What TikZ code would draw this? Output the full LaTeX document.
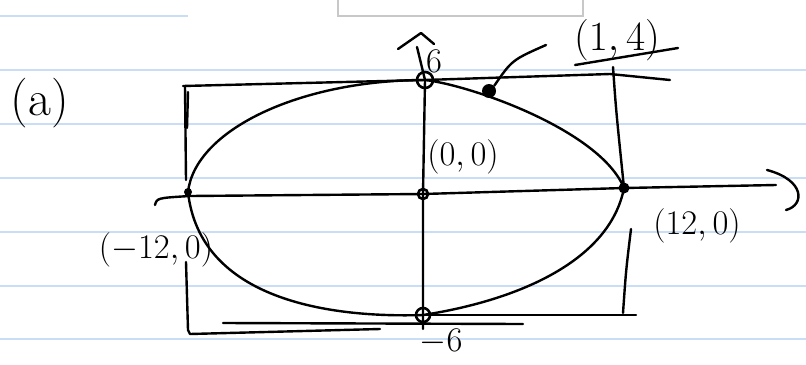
\documentclass[tikz,border=0pt]{standalone}
\usepackage{amsmath, amssymb}
\usepackage{tikz}
\definecolor{rule}{HTML}{C9DDF7}
\definecolor{frame}{HTML}{C8C8C8}

\begin{document}
\begin{tikzpicture}[x=0.5pt, y=-0.5pt,
  ink/.style={line width=1.2pt, line cap=round, line join=round, black},
  ruling/.style={line width=1pt, rule},
  opendot/.style={circle, draw, line width=1.3pt, inner sep=0pt, minimum size=#1},
  fulldot/.style={circle, fill=black, inner sep=0pt, minimum size=#1},
  lbl/.style={inner sep=0pt, font=\LARGE},
]

\useasboundingbox (0,0) rectangle (806,364);

\draw[ruling] (0,16) -- (188,16);
\foreach \y in {70,124,178,232,286,339}
  \draw[ruling] (0,\y) -- (806,\y);
\draw[frame, line width=0.8pt] (338,-2) -- (338,16) -- (583,16) -- (583,-2);

\node[opendot=5pt, minimum width=8pt] (top) at (425,80) {};
\node[fulldot=7pt] (pt) at (489,91) {};
\node[opendot=5pt] (org) at (423,194) {};
\node[fulldot=5.5pt] (rgt) at (624,188) {};
\node[fulldot=4pt] (lft) at (188,192) {};
\node[opendot=7pt] (bot) at (423,315) {};

\coordinate (xl) at (155,205);
\coordinate (xr) at (776,185);
\coordinate (yt) at (417,47);
\coordinate (yb) at (423,329);

\node[lbl, font=\Huge] (parta) at (40,103) {(a)};
\node[lbl, font=\LARGE] (six) at (434,61) {$6$};
\node[lbl, font=\LARGE] (msix) at (441,342) {$-6$};
\node[lbl] (lo) at (463,157) {$(0,0)$};
\node[lbl] (l12) at (697,226) {$(12,0)$};
\node[lbl] (lm12) at (156,250) {$(-12,0)$};
\node[lbl, font=\huge] (l14) at (617,40) {$(1,4)$};

% axes
\draw[ink] (xl) .. controls (157,198) .. (190,196) -- (org.center) -- (rgt.center) -- (xr);
\draw[ink] (767,170) .. controls (805,180) and (805,205) .. (786,210);
\draw[ink] (yt) -- (top.center) -- (org.center) -- (bot.center) -- (yb);
\draw[ink] (398,49) -- (421,33) -- (434,44);

% box
\draw[ink] (183,86) -- (top.center) -- (610,74) -- (670,80);
\draw[ink] (185,86) -- (186,180);
\draw[ink] (188,92) -- (187,128);
\draw[ink] (186,262) -- (188,330) -- (190,334) -- (380,329);
\draw[ink] (223,323) -- (523,324);
\draw[ink] (bot.center) -- (636,315);
\draw[ink] (613,67) .. controls (616,110) .. (rgt.center);
\draw[ink] (631,229) .. controls (626,270) .. (623,313);

% ellipse
\draw[ink] (lft.center) .. controls (195,130) and (300,80) .. (top.center);
\draw[ink] (top.center) .. controls (470,85) and (600,130) .. (rgt.center);
\draw[ink] (rgt.center) .. controls (610,260) and (520,300) .. (bot.center);
\draw[ink] (bot.center) .. controls (330,318) and (200,300) .. (lft.center);

% (1,4)
\draw[ink] (pt.north east) .. controls (512,60) .. (546,45);
\draw[ink] (575,65) -- (678,48);

\end{tikzpicture}
\end{document}
